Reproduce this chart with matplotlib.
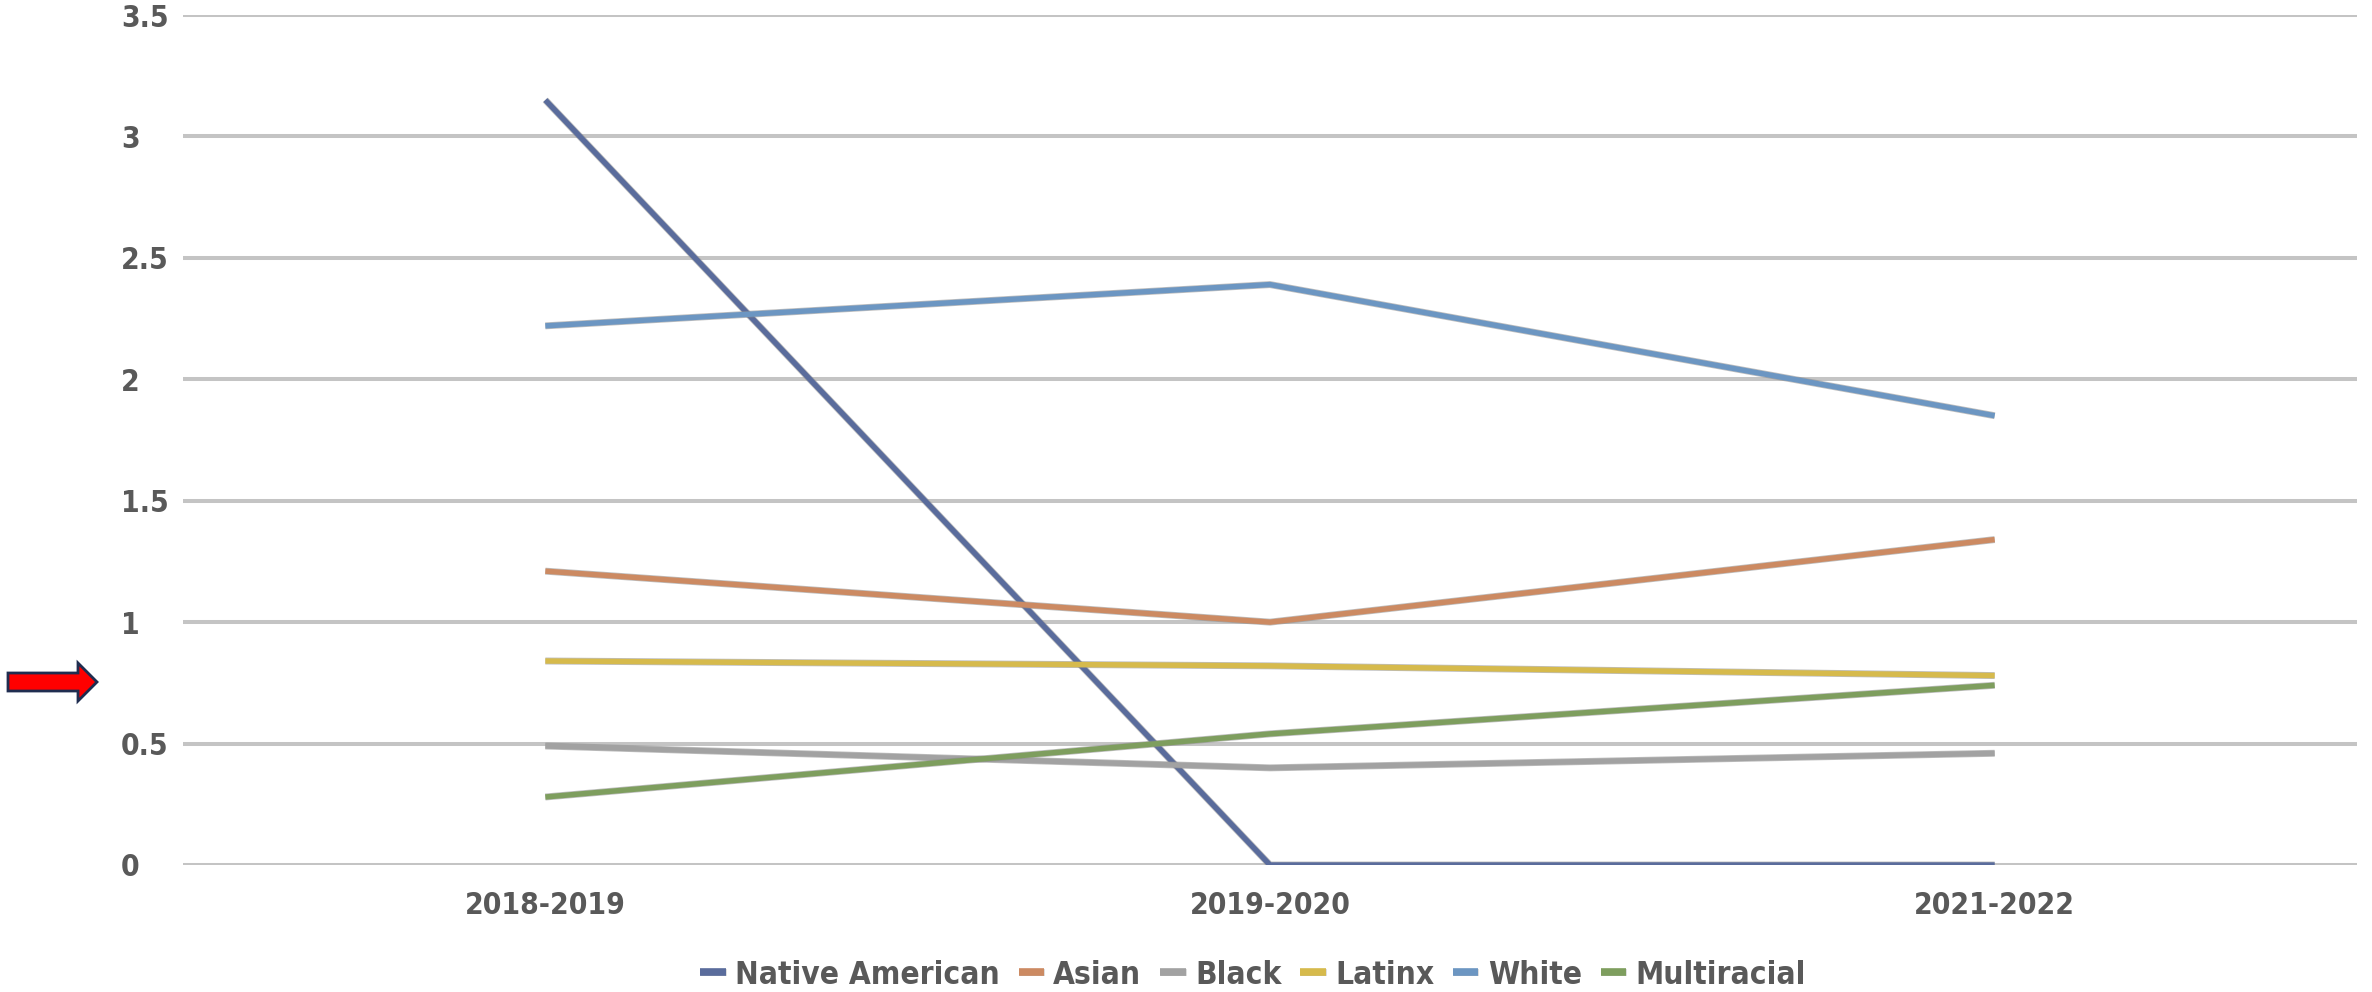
import matplotlib
matplotlib.use("Agg")
import matplotlib.pyplot as plt
import matplotlib.patheffects as pe
from matplotlib import font_manager
from matplotlib.patches import FancyArrow
from matplotlib.transforms import IdentityTransform

# data
years = ["2018-2019", "2019-2020", "2021-2022"]
native_american = [3.15, 0.0, 0.0]
asian = [1.21, 1.00, 1.34]
black = [0.49, 0.40, 0.46]
latinx = [0.84, 0.82, 0.78]
white = [2.22, 2.39, 1.85]
multiracial = [0.28, 0.54, 0.74]

series = [
    ("Native American", native_american, "#5A6C9C"),
    ("Asian", asian, "#CC8A62"),
    ("Black", black, "#A2A2A2"),
    ("Latinx", latinx, "#D6BA4C"),
    ("White", white, "#6C96C2"),
    ("Multiracial", multiracial, "#7E9E5E"),
]

# condensed bold if the system has it, otherwise plain bold a bit smaller
fp = font_manager.FontProperties(family="DejaVu Sans", weight="bold", stretch="condensed")
condensed = "Condensed" in font_manager.findfont(fp, fallback_to_default=True)
fsize = 21.5 if condensed else 19.5
stretch = "condensed" if condensed else "normal"
label_color = "#595959"

fig = plt.figure(figsize=(23.72, 9.92), dpi=100)
ax = fig.add_axes([183 / 2372, 1 - 865 / 992, (2357 - 183) / 2372, (865 - 15) / 992])

x = range(len(years))
for name, vals, col in series:
    ax.plot(x, vals, color=col, lw=3.9, label=name, solid_capstyle="butt",
            path_effects=[pe.Stroke(linewidth=5.0, foreground="#8a8a8a", alpha=0.55), pe.Normal()])

ax.set_xlim(-0.5, 2.5)
ax.set_ylim(0, 3.5)
ax.set_yticks([0, 0.5, 1, 1.5, 2, 2.5, 3, 3.5])
ax.set_yticklabels(["0", "0.5", "1", "1.5", "2", "2.5", "3", "3.5"])
ax.set_xticks(list(x))
ax.set_xticklabels(years)
ax.grid(axis="y", color="#C4C4C4", lw=2.9)
ax.set_axisbelow(True)
for s in ax.spines.values():
    s.set_visible(False)
ax.tick_params(axis="both", length=0, colors=label_color, labelsize=fsize)
ax.tick_params(axis="y", pad=44.5)
ax.tick_params(axis="x", pad=19)
for t in ax.get_yticklabels():
    t.set_ha("left")
for t in ax.get_xticklabels() + ax.get_yticklabels():
    t.set_fontweight("bold")
    t.set_fontstretch(stretch)

leg = fig.legend(loc="center", bbox_to_anchor=(1253 / 2372, 1 - 975 / 992), ncol=6,
                 frameon=False, handlelength=0.8, handletextpad=0.3, columnspacing=0.6,
                 prop=font_manager.FontProperties(family="DejaVu Sans", weight="bold",
                                                  stretch=stretch, size=fsize + 1.2))
for t in leg.get_texts():
    t.set_color(label_color)
for h in leg.get_lines():
    h.set_linewidth(5.5)

# red arrow on the left, in pixel coordinates
arrow = FancyArrow(8, 992 - 682, 89, 0, width=18, head_width=38, head_length=19,
                   length_includes_head=True, facecolor="#FF0000", edgecolor="#1F2D50",
                   lw=2.0, transform=IdentityTransform())
fig.add_artist(arrow)

fig.savefig("out.png", dpi=100)
